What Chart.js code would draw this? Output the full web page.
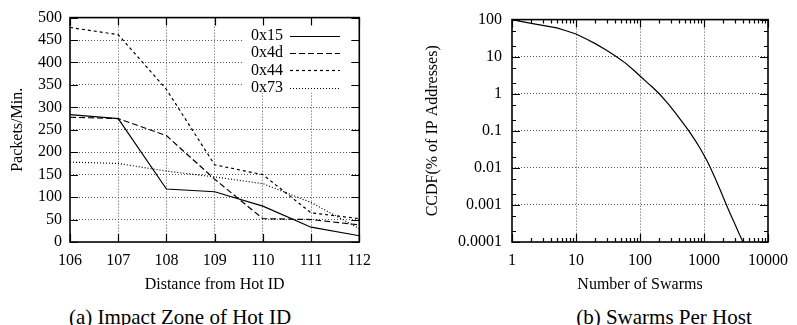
<!DOCTYPE html>
<html><head><meta charset="utf-8">
<script src="https://cdn.jsdelivr.net/npm/chart.js@4.4.1/dist/chart.umd.min.js"></script>
<style>
html,body{margin:0;padding:0;background:#fff;width:797px;height:325px;overflow:hidden;}
#ca{position:absolute;left:0;top:0;}
#cb{position:absolute;left:400px;top:0;}
.cap{position:absolute;top:305px;width:300px;text-align:center;font-family:"Liberation Serif",serif;font-size:21px;line-height:24px;color:#000;}
</style></head><body>
<canvas id="ca" width="380" height="300"></canvas>
<canvas id="cb" width="397" height="300"></canvas>
<div class="cap" style="left:30px">(a) Impact Zone of Hot ID</div>
<div class="cap" style="left:514px">(b) Swarms Per Host</div>
<script>
// ---- Chart (a) data ----
const distances = [106, 107, 108, 109, 110, 111, 112];
const s0x15 = [284, 275, 118, 112, 80, 33, 14];
const s0x4d = [278, 275, 237, 140, 52, 50, 38];
const s0x44 = [478, 462, 340, 172, 150, 65, 52];
const s0x73 = [178, 175, 158, 145, 130, 88, 30];
const seriesNames = ['0x15', '0x4d', '0x44', '0x73'];
const yTicksA = [0, 50, 100, 150, 200, 250, 300, 350, 400, 450, 500];

// ---- Chart (b) data ----
const swarms = [1, 1.5, 2, 3, 5, 7, 10, 15, 20, 30, 43, 60, 80, 100, 130, 160, 200, 270, 350, 450, 580, 750, 850, 1000, 1130, 1280, 1500, 1800, 2200, 2600, 3000, 3500, 4000, 4100];
const ccdf = [100, 87, 79, 70, 60, 50, 41, 29, 22.5, 14.8, 10, 6.6, 4.3, 3.0, 2.0, 1.45, 1.0, 0.56, 0.32, 0.18, 0.10, 0.051, 0.036, 0.022, 0.0148, 0.0095, 0.0052, 0.0025, 0.00107, 0.00055, 0.00032, 0.000174, 0.000107, 0.0001];
const xTicksB = [1, 10, 100, 1000, 10000];
const xTickLabelsB = ['1', '10', '100', '1000', '10000'];
const yTicksB = [0.0001, 0.001, 0.01, 0.1, 1, 10, 100];
const yTickLabelsB = ['0.0001', '0.001', '0.01', '0.1', '1', '10', '100'];
const xMinorMult = [2, 3, 4, 5, 6, 7, 8, 9];
const yMinorMult = [2, 5];

Chart.defaults.font.family = '"Liberation Serif", "Times New Roman", serif';
Chart.defaults.font.size = 16;
Chart.defaults.color = '#000';
Chart.defaults.animation = false;

const GRID = '#555';
const edgeless = c => (c.tick && (c.tick.value <= c.scale.min * 1.0000001 || c.tick.value >= c.scale.max * 0.9999999)) ? 'rgba(0,0,0,0)' : GRID;

const frameTicks = {
  id: 'frameTicks',
  afterDraw(chart, args, opts) {
    const {ctx, chartArea: a, scales: {x, y}} = chart;
    ctx.save();
    ctx.strokeStyle = '#000';
    ctx.lineWidth = 1.2;
    ctx.beginPath();
    const vx = (vals, len) => vals.forEach(v => {
      const p = Math.round(x.getPixelForValue(v)) + 0.5;
      ctx.moveTo(p, a.bottom); ctx.lineTo(p, a.bottom - len);
      ctx.moveTo(p, a.top); ctx.lineTo(p, a.top + len);
    });
    const vy = (vals, len) => vals.forEach(v => {
      const p = Math.round(y.getPixelForValue(v)) + 0.5;
      ctx.moveTo(a.left, p); ctx.lineTo(a.left + len, p);
      ctx.moveTo(a.right, p); ctx.lineTo(a.right - len, p);
    });
    vx(opts.xMajor || [], 8); vx(opts.xMinor || [], 4);
    vy(opts.yMajor || [], 8); vy(opts.yMinor || [], 4);
    ctx.stroke();
    ctx.lineWidth = 1.6;
    ctx.strokeRect(a.left, a.top, a.right - a.left, a.bottom - a.top);
    ctx.restore();
  }
};

const keyBox = {
  id: 'keyBox',
  beforeDatasetsDraw(chart) {
    const {ctx, chartArea: a} = chart;
    ctx.save();
    ctx.fillStyle = '#fff';
    ctx.fillRect(a.left + 173, a.top, a.right - a.left - 173, 75);
    ctx.restore();
  },
  afterDatasetsDraw(chart) {
    const {ctx, chartArea: a} = chart;
    ctx.save();
    chart.data.datasets.forEach((ds, i) => {
      const yy = a.top + 18 + i * 17.4;
      ctx.fillStyle = '#000';
      ctx.font = '16px "Liberation Serif", serif';
      ctx.textAlign = 'right';
      ctx.textBaseline = 'middle';
      ctx.fillText(ds.label, a.left + 213, yy);
      ctx.strokeStyle = ds.borderColor;
      ctx.lineWidth = ds.borderWidth;
      ctx.setLineDash(ds.borderDash || []);
      ctx.beginPath();
      ctx.moveTo(a.left + 220, Math.round(yy) + 0.5);
      ctx.lineTo(a.left + 270, Math.round(yy) + 0.5);
      ctx.stroke();
    });
    ctx.restore();
  }
};

const seriesA = [s0x15, s0x4d, s0x44, s0x73];
const dashes = [[], [6, 3], [3, 3], [1, 2]];

new Chart(document.getElementById('ca'), {
  type: 'line',
  data: {
    datasets: seriesA.map((s, i) => ({
      label: seriesNames[i],
      data: distances.map((d, j) => ({x: d, y: s[j]})),
      borderColor: '#000', borderWidth: 1.2, borderDash: dashes[i],
      pointRadius: 0, tension: 0, fill: false
    }))
  },
  options: {
    responsive: false,
    layout: {padding: {left: 0, top: 16, right: 18, bottom: 0}},
    plugins: {legend: {display: false}, tooltip: {enabled: false},
      frameTicks: {xMajor: distances, yMajor: yTicksA}},
    scales: {
      x: {
        type: 'linear', min: 106, max: 112,
        afterBuildTicks: s => { s.ticks = distances.map(v => ({value: v})); },
        afterFit: s => { s.height = 58; },
        grid: {drawTicks: false, color: edgeless, lineWidth: 1},
        border: {display: false, dash: [1, 2]},
        ticks: {padding: 9, maxRotation: 0, autoSkip: false, callback: v => String(v)},
        title: {display: true, text: 'Distance from Hot ID', padding: {top: 0, bottom: 5.4}}
      },
      y: {
        min: 0, max: 500,
        afterBuildTicks: s => { s.ticks = yTicksA.map(v => ({value: v})); },
        afterFit: s => { s.width = 70; },
        grid: {drawTicks: false, color: edgeless, lineWidth: 1},
        border: {display: false, dash: [1, 2]},
        ticks: {padding: 8, autoSkip: false, callback: v => String(v)},
        title: {display: true, text: 'Packets/Min.', padding: {top: 8.4, bottom: 0}}
      }
    }
  },
  plugins: [keyBox, frameTicks]
});

const xMinorB = [];
xTicksB.slice(0, -1).forEach(d => xMinorMult.forEach(m => xMinorB.push(d * m)));
const yMinorB = [];
yTicksB.slice(0, -1).forEach(d => yMinorMult.forEach(m => yMinorB.push(d * m)));

new Chart(document.getElementById('cb'), {
  type: 'line',
  data: {
    datasets: [{
      label: 'CCDF',
      data: swarms.map((v, j) => ({x: v, y: ccdf[j]})),
      borderColor: '#000', borderWidth: 1.2, pointRadius: 0, tension: 0, fill: false
    }]
  },
  options: {
    responsive: false,
    layout: {padding: {left: 0, top: 16, right: 25, bottom: 0}},
    plugins: {legend: {display: false}, tooltip: {enabled: false},
      frameTicks: {xMajor: xTicksB, xMinor: xMinorB, yMajor: yTicksB, yMinor: yMinorB}},
    scales: {
      x: {
        type: 'logarithmic', min: 1, max: 10000,
        afterBuildTicks: s => { s.ticks = xTicksB.map(v => ({value: v})); },
        afterFit: s => { s.height = 58; },
        grid: {drawTicks: false, color: edgeless, lineWidth: 1},
        border: {display: false, dash: [1, 2]},
        ticks: {padding: 9, maxRotation: 0, autoSkip: false,
          callback: (v) => xTickLabelsB[xTicksB.indexOf(v)]},
        title: {display: true, text: 'Number of Swarms', padding: {top: 0, bottom: 5.4}}
      },
      y: {
        type: 'logarithmic', min: 0.0001, max: 100,
        afterBuildTicks: s => { s.ticks = yTicksB.map(v => ({value: v})); },
        afterFit: s => { s.width = 112; },
        grid: {drawTicks: false, color: edgeless, lineWidth: 1},
        border: {display: false, dash: [1, 2]},
        ticks: {padding: 10, autoSkip: false,
          callback: (v) => yTickLabelsB[yTicksB.indexOf(v)]},
        title: {display: true, text: 'CCDF(% of IP Addresses)', padding: {top: 23.4, bottom: 0}}
      }
    }
  },
  plugins: [frameTicks]
});
</script>
</body></html>
